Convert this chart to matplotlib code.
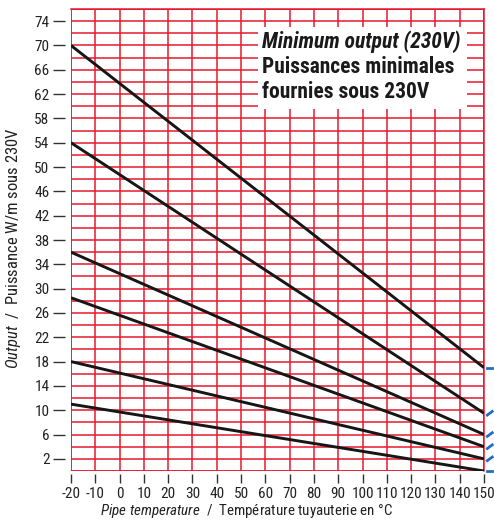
import matplotlib.pyplot as plt
from matplotlib import font_manager
from matplotlib.patches import Rectangle
from matplotlib.transforms import blended_transform_factory

# pick a condensed face if one is installed, else a Helvetica-like one
names = {f.name for f in font_manager.fontManager.ttflist}
face = 'Liberation Sans'
for cand in ['Liberation Sans Narrow', 'Roboto Condensed', 'Open Sans Condensed']:
    if cand in names:
        face = cand
        break
narrow = face != 'Liberation Sans'

plt.rcParams['font.family'] = [face, 'DejaVu Sans']
plt.rcParams['axes.unicode_minus'] = False
plt.rcParams['mathtext.fontset'] = 'custom'
plt.rcParams['mathtext.it'] = face + ':italic'
plt.rcParams['mathtext.rm'] = face

# data: each cable is a straight line from -20 °C to 150 °C
temps = [-20, 150]
start_w = [70, 54, 36, 28.5, 18, 11]
end_w = [17, 9.5, 6, 4, 2, 0]

x_ticks = list(range(-20, 151, 10))
y_ticks = list(range(2, 75, 4))

red = '#e8192c'
blue = '#1f6fc0'
tick_fs = 11 if narrow else 9.3

fig = plt.figure(figsize=(4.94, 5.24), dpi=100)
ax = fig.add_axes([71 / 494, 53 / 524, 413 / 494, 462 / 524])

ax.set_xlim(-20, 150)
ax.set_ylim(0, 76)

ax.set_xticks(x_ticks)
ax.set_yticks(y_ticks)
ax.set_yticks(range(0, 77, 2), minor=True)
ax.grid(which='both', color=red, linewidth=1.1)
ax.tick_params(which='minor', length=0)
ax.set_axisbelow(True)

for s0, s1 in zip(start_w, end_w):
    ax.plot(temps, [s0, s1], color='#161616', linewidth=2.1, solid_capstyle='butt', zorder=3)

# white legend box
ax.add_patch(Rectangle((57, 59.5), 86, 13.5, facecolor='white', edgecolor='none', zorder=2.5))
box_fs = 15.5 if narrow else 11.2
ax.text(58.5, 70.7, 'Minimum output (230V)', fontsize=box_fs, fontweight='bold', style='italic',
        color='#1a1a1a', va='center', ha='left', zorder=4)
ax.text(58.5, 66.4, 'Puissances minimales', fontsize=box_fs, fontweight='bold',
        color='#1a1a1a', va='center', ha='left', zorder=4)
ax.text(58.5, 62.3, 'fournies sous 230V', fontsize=box_fs, fontweight='bold',
        color='#1a1a1a', va='center', ha='left', zorder=4)

# frame
for side in ['top', 'right']:
    ax.spines[side].set_color(red)
    ax.spines[side].set_linewidth(1.1)
ax.spines['left'].set_position(('outward', 4))
ax.spines['bottom'].set_position(('outward', 2))
ax.spines['left'].set_visible(False)
ax.spines['bottom'].set_visible(False)
ax.add_patch(Rectangle((0, 0), 1, 1, transform=ax.transAxes, fill=False,
                       edgecolor=red, linewidth=1.1, zorder=2))

ax.tick_params(axis='y', which='major', direction='out', length=8.5, width=1.0, color='#333333',
               labelsize=tick_fs, pad=3, labelcolor='#222222')
ax.tick_params(axis='x', which='major', direction='out', length=6.5, width=1.0, color='#333333',
               labelsize=tick_fs, pad=3, labelcolor='#222222')

# blue markers at the line ends
trans = blended_transform_factory(ax.transAxes, ax.transData)
for i, e in enumerate(end_w):
    if i == 0 or i == len(end_w) - 1:
        ax.plot([1.008, 1.02], [e, e], color=blue, linewidth=2, transform=trans, clip_on=False)
    else:
        ax.plot([1.008, 1.02], [e - 0.3, e + 0.3], color=blue, linewidth=2, transform=trans, clip_on=False)

lab_fs = 12 if narrow else 9.5
fig.text(14 / 494, 1 - 248 / 524, r'$\it{Output}$  /  Puissance W/m sous 230V', rotation=90,
         fontsize=lab_fs, color='#222222', ha='center', va='center')
fig.text(246 / 494, 1 - 511 / 524, r'$\it{Pipe\ temperature}$  /  Température tuyauterie en °C',
         fontsize=lab_fs - 1.2, color='#222222', ha='center', va='center')

fig.savefig('out.png', dpi=100)
